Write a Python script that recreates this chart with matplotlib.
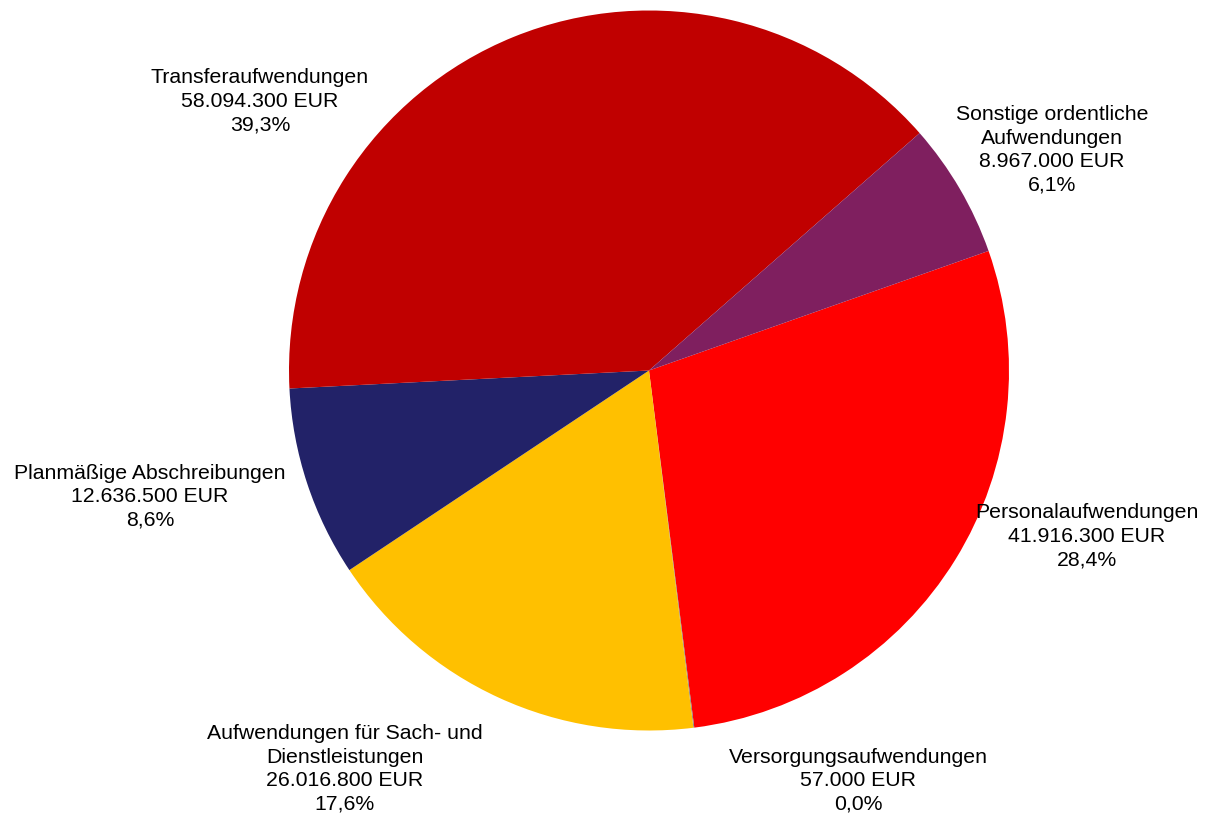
import matplotlib.pyplot as plt

# Aufwendungen (EUR), im Uhrzeigersinn ab Personalaufwendungen
names = ['Personalaufwendungen', 'Versorgungsaufwendungen',
         'Aufwendungen für Sach- und\nDienstleistungen', 'Planmäßige Abschreibungen',
         'Transferaufwendungen', 'Sonstige ordentliche\nAufwendungen']
values = [41916300, 57000, 26016800, 12636500, 58094300, 8967000]
colors = ['#FF0000', '#7F7F7F', '#FFC000', '#222268', '#C00000', '#7F1F5F']

# label centres in pixels of the reference picture
label_px = [(1087, 536), (858, 781), (345, 769), (150, 497), (260, 101), (1052, 150)]

plt.rcParams['font.family'] = ['Liberation Sans', 'DejaVu Sans']

fig = plt.figure(figsize=(12.05, 8.18), dpi=100)
cx, cy, r = 649, 370.5, 360
ax = fig.add_axes([(cx - r) / 1205, (818 - cy - r) / 818, 2 * r / 1205, 2 * r / 818])
ax.pie(values, colors=colors, startangle=19.4, counterclock=False,
       wedgeprops={'linewidth': 0})
ax.set_xlim(-1, 1)
ax.set_ylim(-1, 1)
ax.set_aspect('equal')
ax.axis('off')

total = sum(values)
for name, v, (px, py) in zip(names, values, label_px):
    pct = f'{v / total * 100:.1f}'.replace('.', ',')
    eur = f'{v:,}'.replace(',', '.')
    ax.text((px - cx) / r, (cy - py) / r, f'{name}\n{eur} EUR\n{pct}%',
            ha='center', va='center', fontsize=15.3, linespacing=1.3,
            clip_on=False)

fig.savefig('out.png', dpi=100)
